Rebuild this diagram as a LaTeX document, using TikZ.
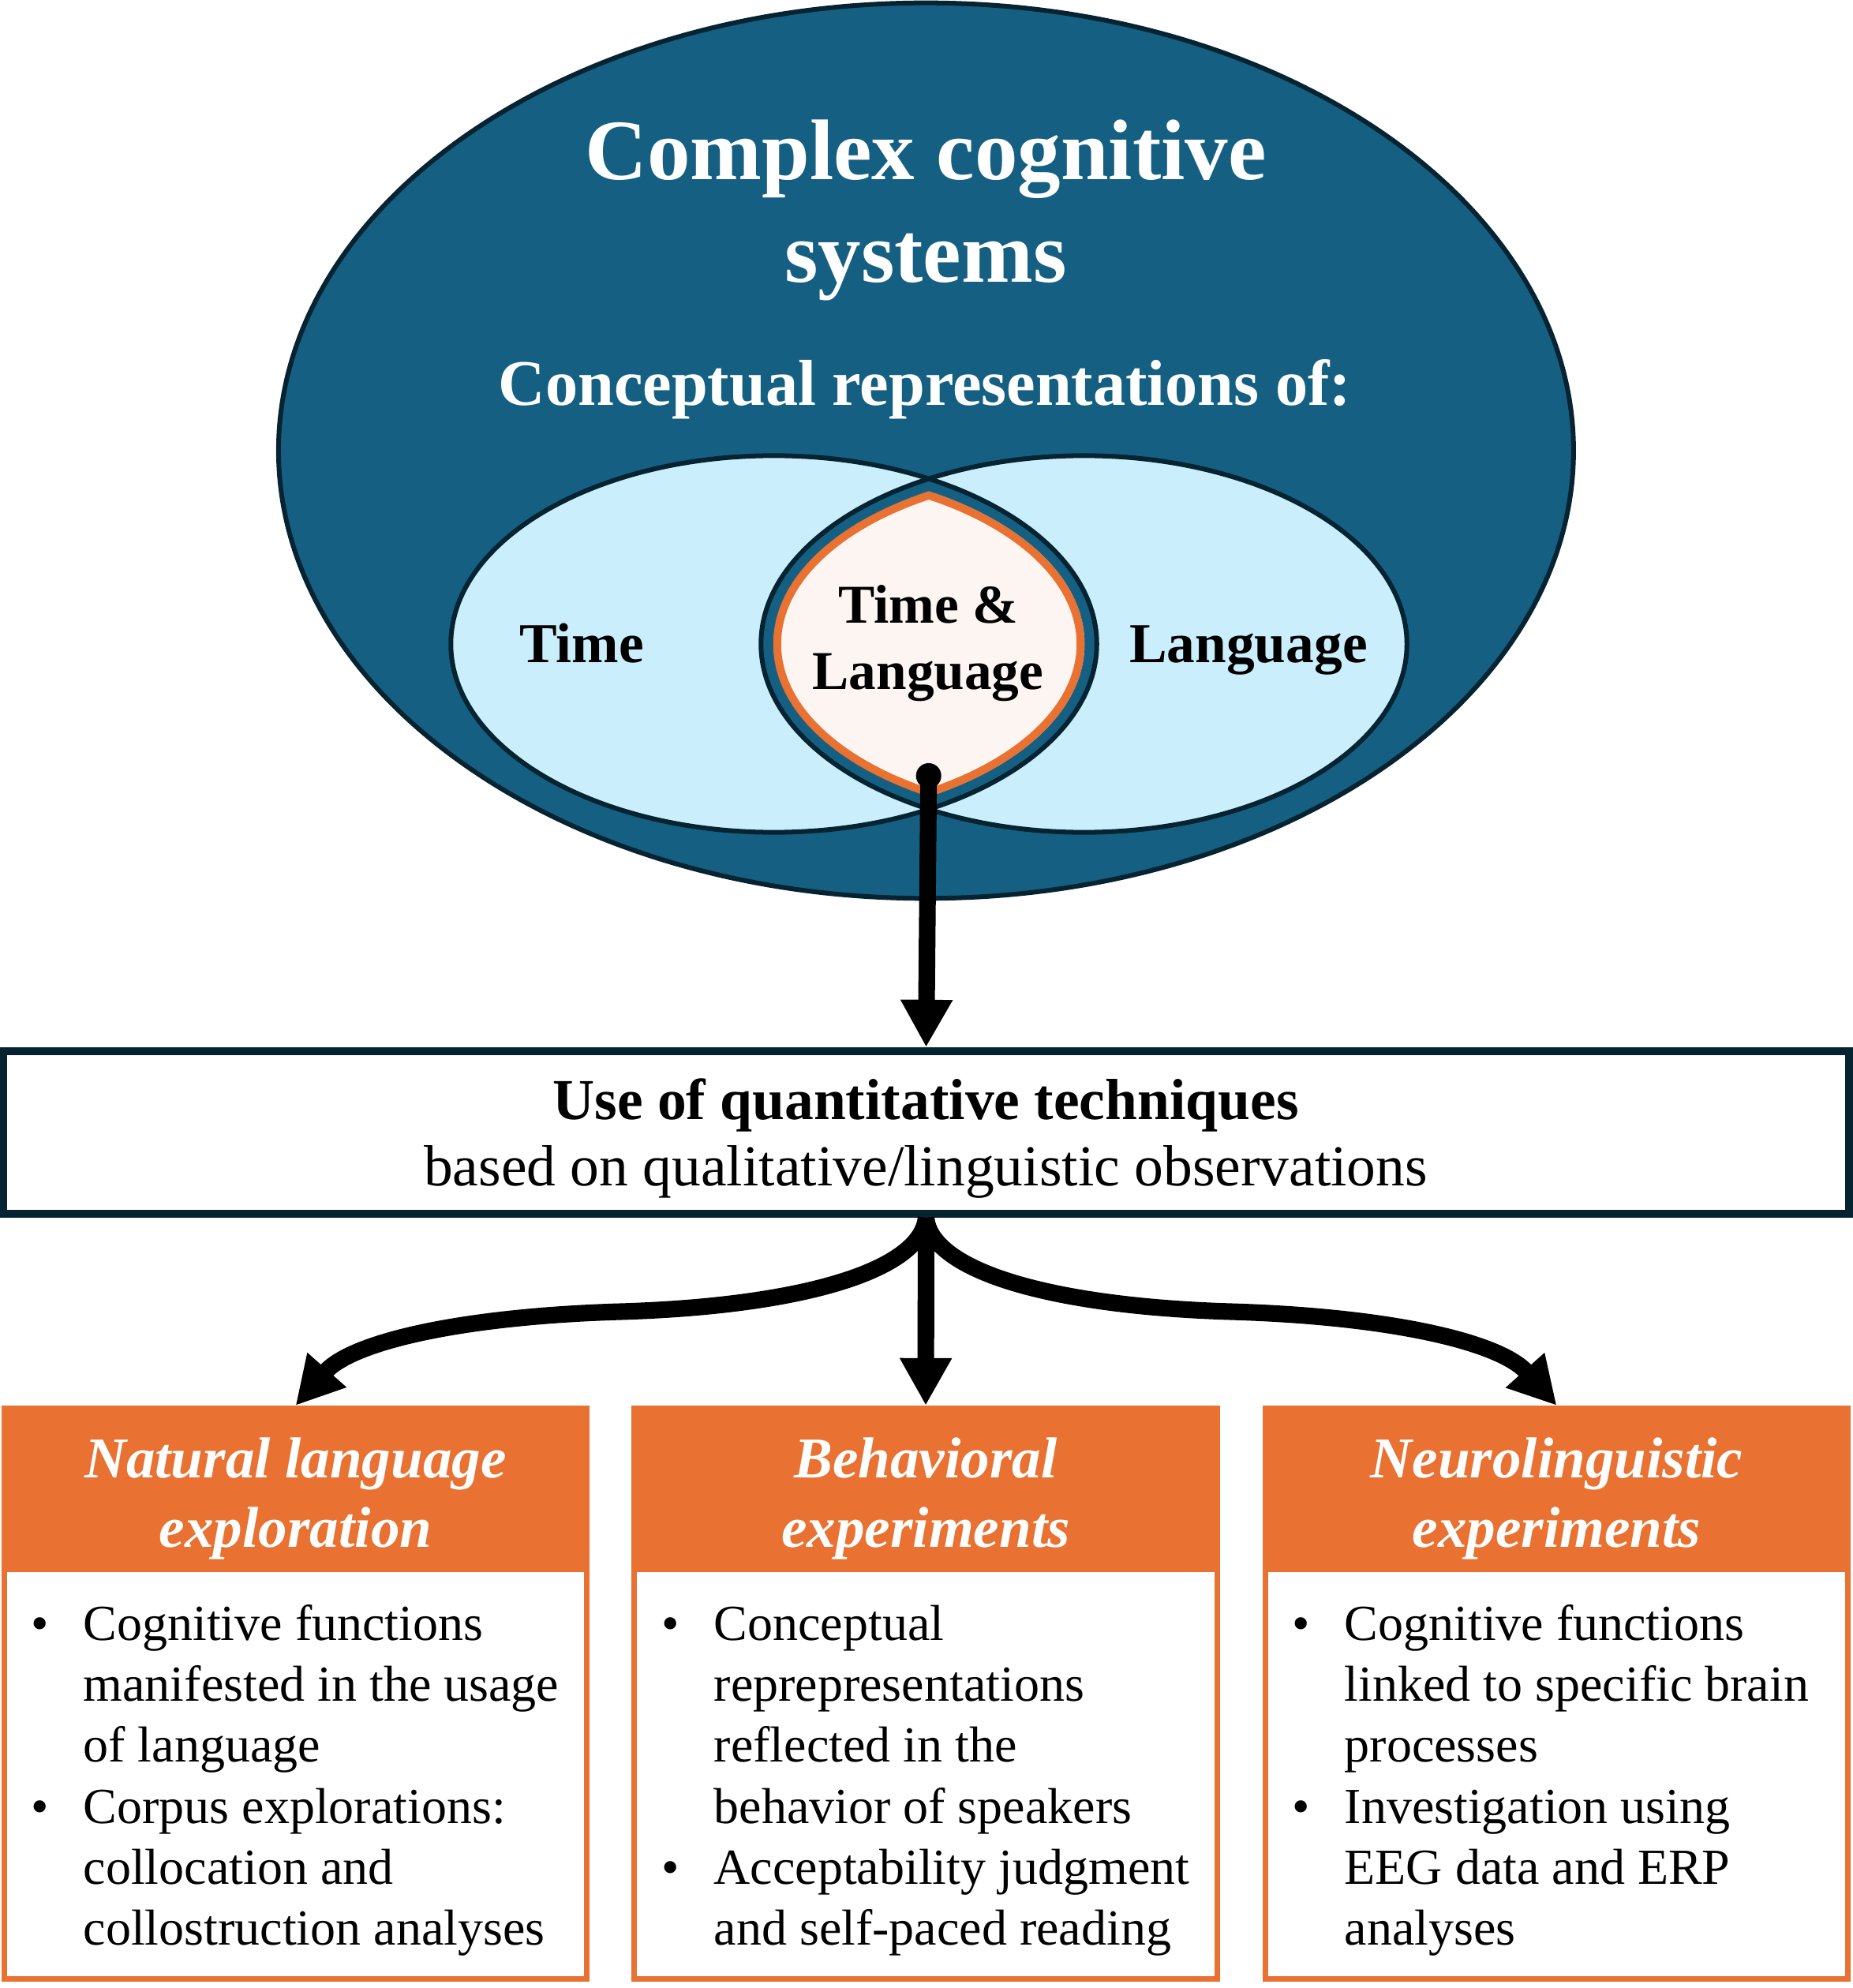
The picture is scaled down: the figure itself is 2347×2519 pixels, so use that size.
\documentclass[tikz,border=0pt]{standalone}
\usepackage{fontspec}
\setmainfont{Liberation Serif}
\usetikzlibrary{arrows.meta}
\definecolor{mainblue}{HTML}{156082}
\definecolor{outl}{HTML}{052331}
\definecolor{lightblue}{HTML}{CAEEFB}
\definecolor{orng}{HTML}{E97132}
\definecolor{cream}{HTML}{FDF5F1}
\begin{document}
\begin{tikzpicture}[x=0.01cm,y=-0.01cm,
  outline/.style={draw=outl,line width=1.71pt},
  arr/.style={line width=6pt,-{Triangle[length=17.1pt,width=17.6pt]}},
  titletext/.style={text=white,inner sep=0,font=\fontsize{31}{36.7}\selectfont\bfseries},
  subtext/.style={text=white,inner sep=0,font=\fontsize{23.4}{28}\selectfont\bfseries},
  setlabel/.style={text=black,inner sep=0,font=\fontsize{20.3}{25}\selectfont\bfseries},
  lenslabel/.style={text=black,inner sep=0,font=\fontsize{19.7}{23.9}\selectfont\bfseries},
  quanttext/.style={text=black,inner sep=0,font=\fontsize{20.9}{23.9}\selectfont},
  frame/.style={draw=orng,fill=white,line width=2pt,minimum width=7.38cm,minimum height=7.23cm,inner sep=0},
  header/.style={draw=orng,fill=orng,line width=2pt,minimum width=7.38cm,minimum height=2.04cm,inner sep=0},
  headtext/.style={text=white,inner sep=0,font=\fontsize{20.8}{25.3}\selectfont\bfseries\itshape},
  bodytext/.style={text=black,inner sep=0,font=\fontsize{18.2}{22}\selectfont}
]
\useasboundingbox (0,0) rectangle (2347,2519);
\fill[white] (0,0) rectangle (2347,2519);

% big ellipse
\path[outline,fill=mainblue] (1173.4,571) ellipse [x radius=8.2cm, y radius=5.67cm];
% set ellipses
\fill[lightblue] (980.5,816) ellipse [x radius=4.09cm, y radius=2.385cm];
\fill[lightblue] (1373.5,816) ellipse [x radius=4.09cm, y radius=2.385cm];
\begin{scope}
  \clip (980.5,816) ellipse [x radius=4.09cm, y radius=2.385cm];
  \fill[mainblue] (1373.5,816) ellipse [x radius=4.09cm, y radius=2.385cm];
\end{scope}
\begin{scope}
  \clip (980.5,816) ellipse [x radius=3.935cm, y radius=2.23cm];
  \path[draw=orng,fill=cream,line width=2.85pt] (1373.5,816) ellipse [x radius=3.885cm, y radius=2.18cm];
\end{scope}
\begin{scope}
  \clip (1373.5,816) ellipse [x radius=3.935cm, y radius=2.23cm];
  \draw[orng,line width=2.85pt] (980.5,816) ellipse [x radius=3.885cm, y radius=2.18cm];
\end{scope}
\draw[outline] (980.5,816) ellipse [x radius=4.09cm, y radius=2.385cm];
\draw[outline] (1373.5,816) ellipse [x radius=4.09cm, y radius=2.385cm];

% texts in ellipses
\node[titletext,anchor=base] (title) at (1173,228) {\begin{tabular}[t]{@{}c@{}}Complex cognitive\\ systems\end{tabular}};
\node[subtext,anchor=base] (sub) at (1172,514) {Conceptual representations of:};
\node[setlabel,anchor=base] (timelbl) at (737,840) {Time};
\node[setlabel,anchor=base] (langlbl) at (1582,840) {Language};
\node[lenslabel,anchor=base] (lenslbl) at (1176,789) {\begin{tabular}[t]{@{}c@{}}Time \&\\ Language\end{tabular}};

% middle box
\node[draw=outl,line width=2.85pt,fill=white,minimum width=23.37cm,minimum height=2.06cm,inner sep=0] (quant) at (1173.5,1435) {};
\node[quanttext,anchor=base] (quanttxt) at (1173,1418) {\begin{tabular}[t]{@{}c@{}}\textbf{Use of quantitative techniques}\\ based on qualitative/linguistic observations\end{tabular}};

% dot and first arrow
\node[circle,fill=black,inner sep=0,minimum size=0.32cm] (dot) at (1176.7,983) {};
\draw[arr] (dot.center) -- (quant.north);

% bottom boxes
\node[frame] (b1) at (374.5,2146) {};
\node[header] (h1) at (374.5,1886.5) {};
\node[frame] (b2) at (1173,2146) {};
\node[header] (h2) at (1173,1886.5) {};
\node[frame] (b3) at (1972.5,2146) {};
\node[header] (h3) at (1972.5,1886.5) {};

\node[headtext,anchor=base] (ht1) at (374.5,1872) {\begin{tabular}[t]{@{}c@{}}Natural language\\ exploration\end{tabular}};
\node[headtext,anchor=base] (ht2) at (1173,1872) {\begin{tabular}[t]{@{}c@{}}Behavioral\\ experiments\end{tabular}};
\node[headtext,anchor=base] (ht3) at (1972.5,1872) {\begin{tabular}[t]{@{}c@{}}Neurolinguistic\\ experiments\end{tabular}};

\node[bodytext,anchor=base west] (bt1) at (39,2078) {\begin{tabular}[t]{@{}l@{}l@{}}
\makebox[0.66cm][l]{\textbullet} & Cognitive functions\\
 & manifested in the usage\\
 & of language\\
\makebox[0.66cm][l]{\textbullet} & Corpus explorations:\\
 & collocation and\\
 & collostruction analyses
\end{tabular}};
\node[bodytext,anchor=base west] (bt2) at (838,2078) {\begin{tabular}[t]{@{}l@{}l@{}}
\makebox[0.66cm][l]{\textbullet} & Conceptual\\
 & reprepresentations\\
 & reflected in the\\
 & behavior of speakers\\
\makebox[0.66cm][l]{\textbullet} & Acceptability judgment\\
 & and self-paced reading
\end{tabular}};
\node[bodytext,anchor=base west] (bt3) at (1637,2078) {\begin{tabular}[t]{@{}l@{}l@{}}
\makebox[0.66cm][l]{\textbullet} & Cognitive functions\\
 & linked to specific brain\\
 & processes\\
\makebox[0.66cm][l]{\textbullet} & Investigation using\\
 & EEG data and ERP\\
 & analyses
\end{tabular}};

% lower arrows
\draw[arr] (quant.south) -- (h2.north);
\draw[arr] (quant.south) .. controls (1180,1610) and (1330,1655) .. (1560,1662) .. controls (1760,1668) and (1900,1700) .. (h3.north);
\draw[arr] (quant.south) .. controls (1166,1610) and (1016,1655) .. (786,1662) .. controls (586,1668) and (446,1700) .. (h1.north);
\end{tikzpicture}
\end{document}
